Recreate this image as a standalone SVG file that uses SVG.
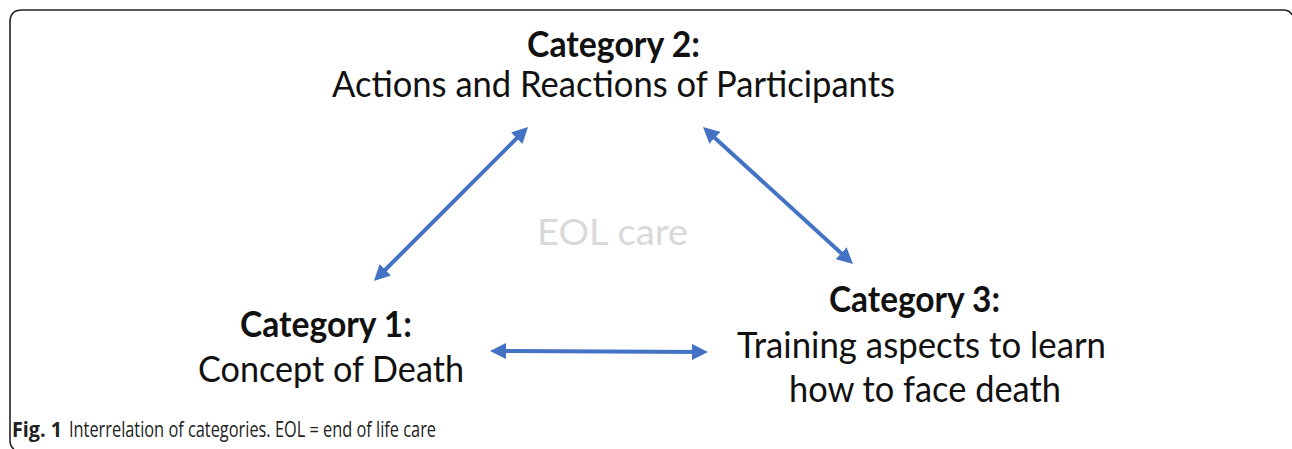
<svg xmlns="http://www.w3.org/2000/svg" width="1292" height="449" viewBox="0 0 1292 449">
  <style>
    .frame { fill: none; stroke: #222; stroke-width: 1.6; }
    .head { font-family: Lato, "Open Sans", sans-serif; font-weight: bold; font-size: 36px; fill: #111; text-anchor: middle; }
    .body { font-family: Lato, "Open Sans", sans-serif; font-size: 36px; fill: #111; text-anchor: middle; }
    .ghost { font-family: Lato, "Open Sans", sans-serif; font-size: 36px; fill: #d9d9d9; text-anchor: middle; }
    .cap { font-family: "Open Sans", "Noto Sans", sans-serif; font-size: 21px; fill: #222; }
    .link { stroke: #4472C4; stroke-width: 4; fill: none; marker-start: url(#tip); marker-end: url(#tip); }
  </style>
  <defs>
    <marker id="tip" viewBox="0 0 16 16" refX="11" refY="8" markerWidth="16" markerHeight="16" markerUnits="userSpaceOnUse" orient="auto-start-reverse">
      <path d="M0,0 L16,8 L0,16 z" fill="#4472C4"/>
    </marker>
  </defs>

  <rect width="1292" height="449" fill="#fff"/>

  <!-- figure frame -->
  <path class="frame" d="M14 449 Q10 447 10 440 L10 22 Q10 10 22 10 L1283 10 Q1290 10 1292 15"/>

  <g id="connectors">
    <line class="link" x1="377.5" y1="277.5" x2="524.5" y2="130.5"/>
    <line class="link" x1="706.7" y1="130.4" x2="849.3" y2="260.6"/>
    <line class="link" x1="495" y1="351" x2="703" y2="352"/>
  </g>

  <g id="category2">
    <text class="head" x="613.5" y="57" textLength="173" lengthAdjust="spacingAndGlyphs">Category 2:</text>
    <text class="body" x="613.5" y="97" textLength="563" lengthAdjust="spacingAndGlyphs">Actions and Reactions of Participants</text>
  </g>

  <g id="category1">
    <text class="head" x="326" y="337" textLength="172" lengthAdjust="spacingAndGlyphs">Category 1:</text>
    <text class="body" x="331" y="382" textLength="266" lengthAdjust="spacingAndGlyphs">Concept of Death</text>
  </g>

  <g id="category3">
    <text class="head" x="914.5" y="312" textLength="171" lengthAdjust="spacingAndGlyphs">Category 3:</text>
    <text class="body" x="921.5" y="358" textLength="369" lengthAdjust="spacingAndGlyphs">Training aspects to learn</text>
    <text class="body" x="925" y="402" textLength="272" lengthAdjust="spacingAndGlyphs">how to face death</text>
  </g>

  <g id="eol">
    <text class="ghost" x="612.5" y="245" textLength="151" lengthAdjust="spacingAndGlyphs">EOL care</text>
  </g>

  <g id="caption">
    <text class="cap" x="12" y="437" font-weight="bold" textLength="50" lengthAdjust="spacingAndGlyphs">Fig. 1</text>
    <text class="cap" x="69" y="437" textLength="367" lengthAdjust="spacingAndGlyphs">Interrelation of categories. EOL = end of life care</text>
  </g>
</svg>
